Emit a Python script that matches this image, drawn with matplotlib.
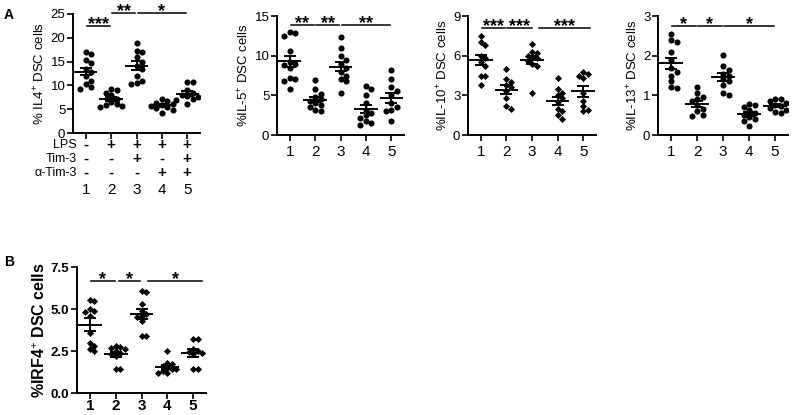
import numpy as np
import matplotlib
matplotlib.use("Agg")
import matplotlib.pyplot as plt

plt.rcParams['font.family'] = ['Liberation Sans', 'DejaVu Sans']
plt.rcParams['mathtext.fontset'] = 'custom'
plt.rcParams['mathtext.rm'] = 'Liberation Sans'
plt.rcParams['mathtext.it'] = 'Liberation Sans:italic'
plt.rcParams['mathtext.bf'] = 'Liberation Sans:bold'

groups = [1, 2, 3, 4, 5]

il4 = [
    [17.0, 16.6, 15.4, 14.8, 13.5, 12.8, 12.0, 11.0, 10.2, 9.6, 9.2],
    [9.3, 9.0, 8.5, 8.0, 7.2, 6.5, 6.0, 5.8, 5.6, 5.5],
    [19.0, 17.3, 17.0, 16.0, 15.0, 14.0, 13.5, 12.0, 11.0, 10.5, 10.2],
    [7.2, 6.8, 6.4, 6.1, 5.9, 5.7, 5.5, 5.2, 4.8, 4.3],
    [10.8, 10.8, 9.0, 8.5, 8.0, 7.8, 7.5, 7.2, 7.0, 6.0],
]
il5 = [
    [13.0, 12.8, 12.5, 10.6, 9.2, 9.0, 8.8, 8.5, 7.2, 7.0, 6.8, 5.8],
    [6.9, 5.8, 5.2, 4.8, 4.5, 4.3, 4.0, 3.8, 3.5, 3.2, 3.0],
    [12.3, 11.0, 10.0, 9.5, 9.0, 8.5, 8.0, 7.5, 7.0, 6.8, 5.3],
    [6.2, 5.8, 5.0, 4.0, 3.2, 2.8, 2.5, 2.2, 1.8, 1.5, 1.3],
    [8.2, 7.0, 6.0, 5.5, 5.0, 4.0, 3.5, 3.2, 3.0, 1.8],
]
il10 = [
    [7.5, 7.0, 6.8, 6.0, 5.8, 5.5, 5.2, 4.5, 4.5, 3.8],
    [5.0, 4.2, 4.0, 3.8, 3.6, 3.3, 2.8, 2.2, 2.0],
    [6.9, 6.3, 6.2, 6.0, 5.9, 5.8, 5.6, 5.4, 5.2, 3.2],
    [4.3, 3.5, 3.2, 3.0, 2.8, 2.5, 2.0, 1.8, 1.5, 1.2],
    [4.8, 4.6, 4.5, 4.3, 3.2, 2.6, 2.2, 1.9, 1.8],
]
il13 = [
    [2.55, 2.4, 2.35, 2.1, 1.9, 1.7, 1.6, 1.5, 1.35, 1.2, 1.18],
    [1.2, 1.05, 0.95, 0.9, 0.85, 0.75, 0.65, 0.6, 0.5, 0.48],
    [2.02, 1.75, 1.65, 1.55, 1.5, 1.4, 1.35, 1.25, 1.05, 1.0],
    [0.78, 0.75, 0.7, 0.62, 0.55, 0.5, 0.45, 0.4, 0.35, 0.22],
    [0.92, 0.9, 0.85, 0.8, 0.75, 0.72, 0.68, 0.62, 0.58, 0.55],
]
irf4 = [
    [5.55, 5.5, 5.0, 4.9, 4.8, 4.6, 3.6, 3.0, 2.8, 2.6, 2.5],
    [2.8, 2.75, 2.7, 2.6, 2.5, 2.4, 2.3, 2.2, 1.4, 1.4],
    [6.1, 6.0, 5.3, 4.9, 4.7, 4.6, 4.5, 4.3, 3.4, 3.4],
    [2.5, 1.8, 1.7, 1.6, 1.5, 1.45, 1.4, 1.3, 1.2, 1.2],
    [3.2, 3.2, 2.6, 2.5, 2.45, 2.4, 2.3, 1.4, 1.4],
]

lps = ['-', '+', '+', '+', '+']
tim3 = ['-', '-', '+', '-', '+']
anti_tim3 = ['-', '-', '-', '+', '+']

W, H = 793, 415
fig = plt.figure(figsize=(W / 100, H / 100), dpi=100)


def add_axes_px(left, top, right, bottom):
    return fig.add_axes([left / W, 1 - bottom / H, (right - left) / W, (bottom - top) / H])


def swarm_x(ax, xc, vals, d):
    # simple deterministic beeswarm in pixel space
    pts = ax.transData.transform([(xc, v) for v in vals])
    order = np.argsort(-np.asarray(vals))
    placed = []
    xs = np.zeros(len(vals))
    for i in order:
        px, py = pts[i]
        for k in range(12):
            off = ((k + 1) // 2) * d * (1 if k % 2 else -1) if k else 0
            cand = px + off
            if all((cand - qx) ** 2 + (py - qy) ** 2 >= d * d for qx, qy in placed):
                break
        placed.append((cand, py))
        xs[i] = ax.transData.inverted().transform((cand, py))[0]
    return xs


def panel(rect, data, ylim, yticks, yticklabels, ylabel, marker, ms, sigs,
          bold=False, xlabels=True, xpad=3):
    ax = add_axes_px(*rect)
    ax.set_xlim(0.5, 5.5)
    ax.set_ylim(*ylim)
    for s in ['top', 'right']:
        ax.spines[s].set_visible(False)
    for s in ['left', 'bottom']:
        ax.spines[s].set_linewidth(1.4)
    wt = 'bold' if bold else 'normal'
    ax.set_yticks(yticks)
    ax.set_yticklabels(yticklabels, fontsize=9.5, fontweight=wt)
    ax.set_xticks(groups)
    if xlabels:
        ax.set_xticklabels([str(g) for g in groups], fontsize=11, fontweight=wt)
    else:
        ax.set_xticklabels([])
    ax.tick_params(axis='both', direction='out', length=4, width=1.2, pad=1.5)
    ax.tick_params(axis='x', pad=xpad)

    for g, vals in zip(groups, data):
        vals = np.asarray(vals)
        xs = swarm_x(ax, g, vals, ms * 1.25)
        ax.scatter(xs, vals, marker=marker, s=ms ** 2, color='black', zorder=3,
                   linewidths=0)
        m = vals.mean()
        sem = vals.std(ddof=1) / np.sqrt(len(vals))
        ax.plot([g - 0.42, g + 0.42], [m, m], color='black', lw=1.4, zorder=4)
        ax.errorbar(g, m, yerr=sem, color='black', capsize=4.5, capthick=1.4,
                    elinewidth=1.4, zorder=4)

    for x0, x1, y, txt in sigs:
        ax.plot([x0 + 0.04, x1 - 0.04], [y, y], color='black', lw=1.1, clip_on=False)
        ax.annotate(txt, xy=((x0 + x1) / 2, y), xytext=(0, -2.5),
                    textcoords='offset points', ha='center', va='baseline',
                    fontsize=13, fontweight='bold', annotation_clip=False)
    ax.set_ylabel(ylabel, fontsize=11.5 if bold else 9.5, fontweight=wt, labelpad=2)
    return ax


ax1 = panel((73, 14, 200, 133), il4, (0, 25), [0, 5, 10, 15, 20, 25],
            ['0', '5', '10', '15', '20', '25'], r'% IL4$^{+}$ DSC cells', 'o', 4.4,
            [(1, 2, 22.5, '***'), (2, 3, 25.2, '**'), (3, 5, 25.2, '*')],
            xlabels=False)

ax2 = panel((277, 16, 404, 135), il5, (0, 15), [0, 5, 10, 15],
            ['0', '5', '10', '15'], r'%IL-5$^{+}$ DSC cells', 'o', 4.4,
            [(1, 2, 13.9, '**'), (2, 3, 13.9, '**'), (3, 5, 13.9, '**')])

ax3 = panel((468, 16, 596, 135), il10, (0, 9), [0, 3, 6, 9],
            ['0', '3', '6', '9'], r'%IL-10$^{+}$ DSC cells', 'D', 3.6,
            [(1, 2, 8.1, '***'), (2, 3.05, 8.1, '***'), (3.25, 5.3, 8.1, '***')])

ax4 = panel((658, 16, 788, 135), il13, (0, 3), [0, 1, 2, 3],
            ['0', '1', '2', '3'], r'%IL-13$^{+}$ DSC cells', 'o', 4.4,
            [(1, 2, 2.75, '*'), (2, 3, 2.75, '*'), (3, 5, 2.75, '*')])

ax5 = panel((77, 267, 206, 393), irf4, (0, 7.5), [0, 2.5, 5.0, 7.5],
            ['0.0', '2.5', '5.0', '7.5'], r'%IRF4$^{+}$ DSC cells', 'D', 3.6,
            [(1, 2, 6.68, '*'), (2.1, 3, 6.68, '*'), (3.2, 5.4, 6.68, '*')],
            bold=True, xpad=0.5)

# treatment table under the first panel
rows = [('LPS', lps, 145), ('Tim-3', tim3, 159), ('α-Tim-3', anti_tim3, 173)]
for name, signs, ypx in rows:
    fig.text(77 / W, 1 - ypx / H, name, ha='right', va='center', fontsize=9)
    for g, sg in zip(groups, signs):
        xfig = fig.transFigure.inverted().transform(ax1.transData.transform((g, 0)))[0]
        fig.text(xfig, 1 - ypx / H, sg, ha='center', va='center', fontsize=11,
                 fontweight='bold')
for g in groups:
    xfig = fig.transFigure.inverted().transform(ax1.transData.transform((g, 0)))[0]
    fig.text(xfig, 1 - 190 / H, str(g), ha='center', va='center', fontsize=11)

fig.text(4 / W, 1 - 15 / H, 'A', fontsize=10, fontweight='bold', va='center')
fig.text(4 / W, 1 - 262 / H, 'B', fontsize=10, fontweight='bold', va='center')

fig.savefig('out.png', dpi=100)
